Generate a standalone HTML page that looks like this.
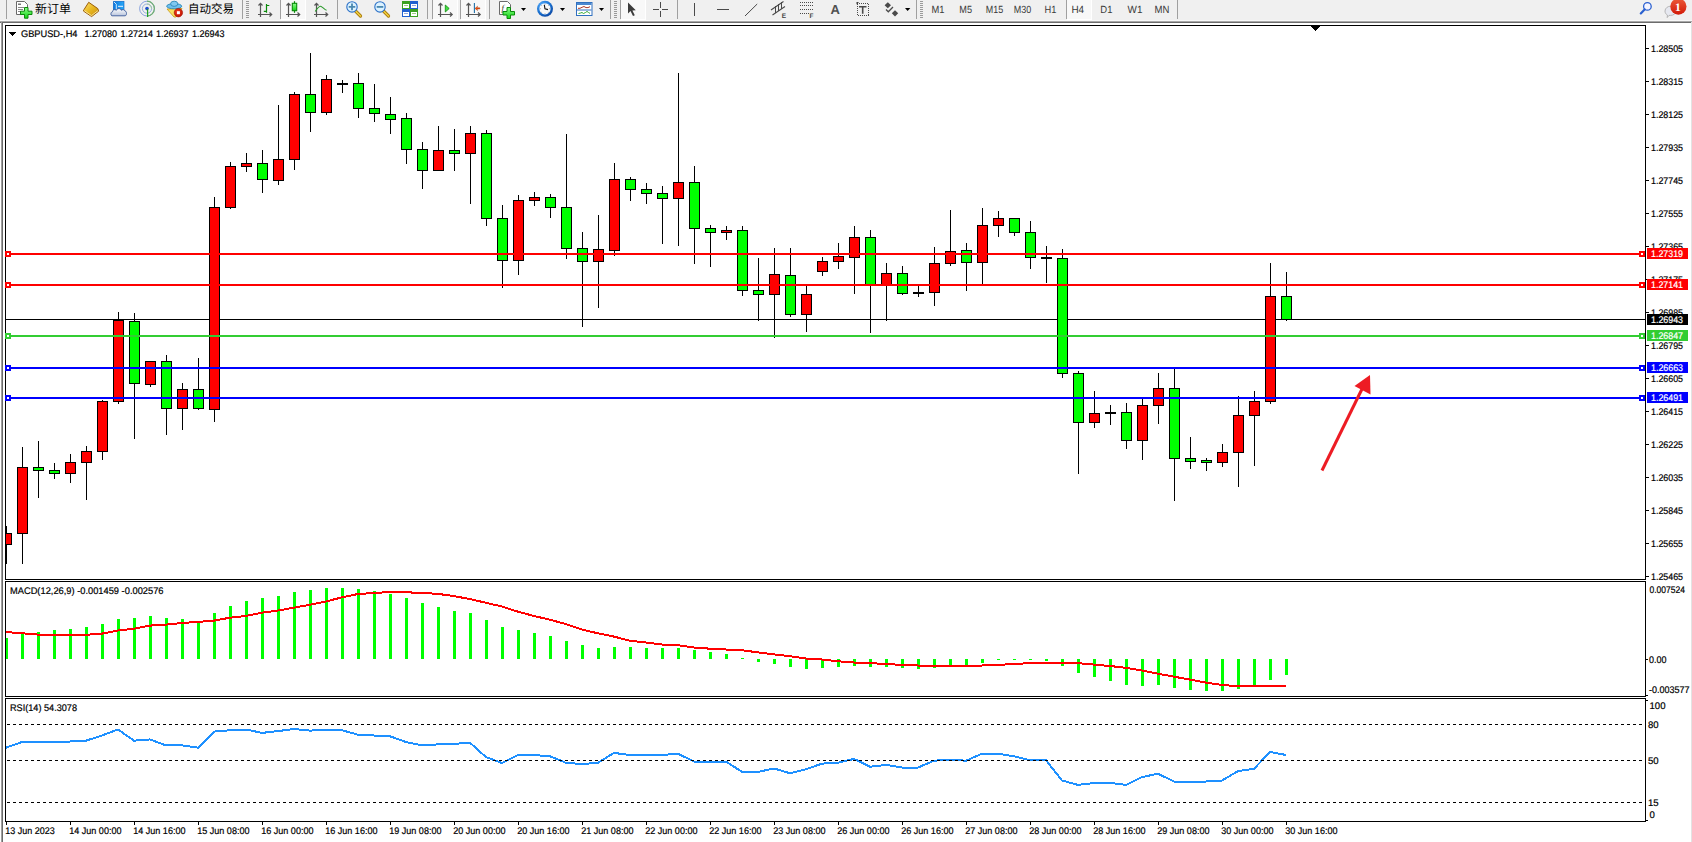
<!DOCTYPE html>
<html><head><meta charset="utf-8"><title>GBPUSD H4</title>
<style>html,body{margin:0;padding:0;background:#fff;}body{width:1692px;height:842px;overflow:hidden;position:relative}
svg{position:absolute;left:0;top:0;display:block} text{text-rendering:geometricPrecision}
</style></head><body>
<svg width="1692" height="842" viewBox="0 0 1692 842" shape-rendering="crispEdges">
<rect x="0" y="0" width="1692" height="842" fill="#ffffff"/>
<rect x="0" y="0" width="1692" height="20" fill="#f0f0f0"/>
<rect x="0" y="20" width="1692" height="1" fill="#f8f8f8"/>
<rect x="0" y="21" width="1692" height="1" fill="#a8a8a8"/>
<rect x="0" y="22" width="1692" height="1" fill="#6c6c6c"/>
<rect x="1" y="22" width="1" height="820" fill="#a0a0a0"/>
<rect x="2" y="22" width="1" height="820" fill="#6c6c6c"/>
<rect x="1691" y="22" width="1" height="820" fill="#e3e3e3"/>
<rect x="5" y="25" width="1641" height="1" fill="#000"/>
<rect x="5" y="579" width="1641" height="1" fill="#000"/>
<rect x="5" y="25" width="1" height="555" fill="#000"/>
<rect x="1645" y="25" width="1" height="555" fill="#000"/>
<rect x="5" y="581" width="1641" height="1" fill="#000"/>
<rect x="5" y="696" width="1641" height="1" fill="#000"/>
<rect x="5" y="581" width="1" height="116" fill="#000"/>
<rect x="1645" y="581" width="1" height="116" fill="#000"/>
<rect x="5" y="698" width="1641" height="1" fill="#000"/>
<rect x="5" y="821" width="1641" height="1" fill="#000"/>
<rect x="5" y="698" width="1" height="124" fill="#000"/>
<rect x="1645" y="698" width="1" height="124" fill="#000"/>
<rect x="1311" y="26" width="9" height="1" fill="#000"/>
<rect x="1312" y="27" width="7" height="1" fill="#000"/>
<rect x="1313" y="28" width="5" height="1" fill="#000"/>
<rect x="1314" y="29" width="3" height="1" fill="#000"/>
<rect x="1315" y="30" width="1" height="1" fill="#000"/>
<rect x="9" y="32" width="7" height="1" fill="#000"/>
<rect x="10" y="33" width="5" height="1" fill="#000"/>
<rect x="11" y="34" width="3" height="1" fill="#000"/>
<rect x="12" y="35" width="1" height="1" fill="#000"/>
<g clip-path="url(#cpa)">
<rect x="1646" y="48" width="3" height="1" fill="#000"/>
<text x="1651" y="51.5" font-size="9.6" fill="#000" stroke="#000" stroke-width="0.2" font-family='"Liberation Sans", Arial, sans-serif' textLength="32" lengthAdjust="spacingAndGlyphs">1.28505</text>
<rect x="1646" y="81" width="3" height="1" fill="#000"/>
<text x="1651" y="84.5" font-size="9.6" fill="#000" stroke="#000" stroke-width="0.2" font-family='"Liberation Sans", Arial, sans-serif' textLength="32" lengthAdjust="spacingAndGlyphs">1.28315</text>
<rect x="1646" y="114" width="3" height="1" fill="#000"/>
<text x="1651" y="117.5" font-size="9.6" fill="#000" stroke="#000" stroke-width="0.2" font-family='"Liberation Sans", Arial, sans-serif' textLength="32" lengthAdjust="spacingAndGlyphs">1.28125</text>
<rect x="1646" y="147" width="3" height="1" fill="#000"/>
<text x="1651" y="150.5" font-size="9.6" fill="#000" stroke="#000" stroke-width="0.2" font-family='"Liberation Sans", Arial, sans-serif' textLength="32" lengthAdjust="spacingAndGlyphs">1.27935</text>
<rect x="1646" y="180" width="3" height="1" fill="#000"/>
<text x="1651" y="183.5" font-size="9.6" fill="#000" stroke="#000" stroke-width="0.2" font-family='"Liberation Sans", Arial, sans-serif' textLength="32" lengthAdjust="spacingAndGlyphs">1.27745</text>
<rect x="1646" y="213" width="3" height="1" fill="#000"/>
<text x="1651" y="216.5" font-size="9.6" fill="#000" stroke="#000" stroke-width="0.2" font-family='"Liberation Sans", Arial, sans-serif' textLength="32" lengthAdjust="spacingAndGlyphs">1.27555</text>
<rect x="1646" y="246" width="3" height="1" fill="#000"/>
<text x="1651" y="249.5" font-size="9.6" fill="#000" stroke="#000" stroke-width="0.2" font-family='"Liberation Sans", Arial, sans-serif' textLength="32" lengthAdjust="spacingAndGlyphs">1.27365</text>
<rect x="1646" y="279" width="3" height="1" fill="#000"/>
<text x="1651" y="282.5" font-size="9.6" fill="#000" stroke="#000" stroke-width="0.2" font-family='"Liberation Sans", Arial, sans-serif' textLength="32" lengthAdjust="spacingAndGlyphs">1.27175</text>
<rect x="1646" y="312" width="3" height="1" fill="#000"/>
<text x="1651" y="315.5" font-size="9.6" fill="#000" stroke="#000" stroke-width="0.2" font-family='"Liberation Sans", Arial, sans-serif' textLength="32" lengthAdjust="spacingAndGlyphs">1.26985</text>
<rect x="1646" y="345" width="3" height="1" fill="#000"/>
<text x="1651" y="348.5" font-size="9.6" fill="#000" stroke="#000" stroke-width="0.2" font-family='"Liberation Sans", Arial, sans-serif' textLength="32" lengthAdjust="spacingAndGlyphs">1.26795</text>
<rect x="1646" y="378" width="3" height="1" fill="#000"/>
<text x="1651" y="381.5" font-size="9.6" fill="#000" stroke="#000" stroke-width="0.2" font-family='"Liberation Sans", Arial, sans-serif' textLength="32" lengthAdjust="spacingAndGlyphs">1.26605</text>
<rect x="1646" y="411" width="3" height="1" fill="#000"/>
<text x="1651" y="414.5" font-size="9.6" fill="#000" stroke="#000" stroke-width="0.2" font-family='"Liberation Sans", Arial, sans-serif' textLength="32" lengthAdjust="spacingAndGlyphs">1.26415</text>
<rect x="1646" y="444" width="3" height="1" fill="#000"/>
<text x="1651" y="447.5" font-size="9.6" fill="#000" stroke="#000" stroke-width="0.2" font-family='"Liberation Sans", Arial, sans-serif' textLength="32" lengthAdjust="spacingAndGlyphs">1.26225</text>
<rect x="1646" y="477" width="3" height="1" fill="#000"/>
<text x="1651" y="480.5" font-size="9.6" fill="#000" stroke="#000" stroke-width="0.2" font-family='"Liberation Sans", Arial, sans-serif' textLength="32" lengthAdjust="spacingAndGlyphs">1.26035</text>
<rect x="1646" y="510" width="3" height="1" fill="#000"/>
<text x="1651" y="513.5" font-size="9.6" fill="#000" stroke="#000" stroke-width="0.2" font-family='"Liberation Sans", Arial, sans-serif' textLength="32" lengthAdjust="spacingAndGlyphs">1.25845</text>
<rect x="1646" y="543" width="3" height="1" fill="#000"/>
<text x="1651" y="546.5" font-size="9.6" fill="#000" stroke="#000" stroke-width="0.2" font-family='"Liberation Sans", Arial, sans-serif' textLength="32" lengthAdjust="spacingAndGlyphs">1.25655</text>
<rect x="1646" y="576" width="3" height="1" fill="#000"/>
<text x="1651" y="579.5" font-size="9.6" fill="#000" stroke="#000" stroke-width="0.2" font-family='"Liberation Sans", Arial, sans-serif' textLength="32" lengthAdjust="spacingAndGlyphs">1.25465</text>
</g>
<defs><clipPath id="cm"><rect x="6" y="26" width="1639" height="553"/></clipPath><clipPath id="cmacd"><rect x="6" y="582" width="1639" height="114"/></clipPath><clipPath id="crsi"><rect x="6" y="699" width="1639" height="122"/></clipPath><clipPath id="cpa"><rect x="1646" y="26" width="46" height="556"/></clipPath></defs>
<g clip-path="url(#cm)">
<rect x="6" y="319" width="1639" height="1" fill="#000"/>
<rect x="6" y="526" width="1" height="38" fill="#000"/>
<rect x="1" y="533" width="11" height="12" fill="#000"/>
<rect x="2" y="534" width="9" height="10" fill="#ff0000"/>
<rect x="22" y="447" width="1" height="117" fill="#000"/>
<rect x="17" y="467" width="11" height="67" fill="#000"/>
<rect x="18" y="468" width="9" height="65" fill="#ff0000"/>
<rect x="38" y="441" width="1" height="57" fill="#000"/>
<rect x="33" y="467" width="11" height="4" fill="#000"/>
<rect x="34" y="468" width="9" height="2" fill="#00ff00"/>
<rect x="54" y="463" width="1" height="16" fill="#000"/>
<rect x="49" y="470" width="11" height="4" fill="#000"/>
<rect x="50" y="471" width="9" height="2" fill="#00ff00"/>
<rect x="70" y="454" width="1" height="29" fill="#000"/>
<rect x="65" y="462" width="11" height="12" fill="#000"/>
<rect x="66" y="463" width="9" height="10" fill="#ff0000"/>
<rect x="86" y="446" width="1" height="54" fill="#000"/>
<rect x="81" y="451" width="11" height="12" fill="#000"/>
<rect x="82" y="452" width="9" height="10" fill="#ff0000"/>
<rect x="102" y="400" width="1" height="60" fill="#000"/>
<rect x="97" y="401" width="11" height="51" fill="#000"/>
<rect x="98" y="402" width="9" height="49" fill="#ff0000"/>
<rect x="118" y="312" width="1" height="92" fill="#000"/>
<rect x="113" y="320" width="11" height="82" fill="#000"/>
<rect x="114" y="321" width="9" height="80" fill="#ff0000"/>
<rect x="134" y="313" width="1" height="126" fill="#000"/>
<rect x="129" y="321" width="11" height="63" fill="#000"/>
<rect x="130" y="322" width="9" height="61" fill="#00ff00"/>
<rect x="150" y="361" width="1" height="26" fill="#000"/>
<rect x="145" y="361" width="11" height="24" fill="#000"/>
<rect x="146" y="362" width="9" height="22" fill="#ff0000"/>
<rect x="166" y="355" width="1" height="80" fill="#000"/>
<rect x="161" y="361" width="11" height="48" fill="#000"/>
<rect x="162" y="362" width="9" height="46" fill="#00ff00"/>
<rect x="182" y="383" width="1" height="47" fill="#000"/>
<rect x="177" y="389" width="11" height="20" fill="#000"/>
<rect x="178" y="390" width="9" height="18" fill="#ff0000"/>
<rect x="198" y="358" width="1" height="52" fill="#000"/>
<rect x="193" y="389" width="11" height="20" fill="#000"/>
<rect x="194" y="390" width="9" height="18" fill="#00ff00"/>
<rect x="214" y="197" width="1" height="225" fill="#000"/>
<rect x="209" y="207" width="11" height="203" fill="#000"/>
<rect x="210" y="208" width="9" height="201" fill="#ff0000"/>
<rect x="230" y="162" width="1" height="47" fill="#000"/>
<rect x="225" y="166" width="11" height="42" fill="#000"/>
<rect x="226" y="167" width="9" height="40" fill="#ff0000"/>
<rect x="246" y="153" width="1" height="19" fill="#000"/>
<rect x="241" y="163" width="11" height="4" fill="#000"/>
<rect x="242" y="164" width="9" height="2" fill="#ff0000"/>
<rect x="262" y="150" width="1" height="43" fill="#000"/>
<rect x="257" y="163" width="11" height="17" fill="#000"/>
<rect x="258" y="164" width="9" height="15" fill="#00ff00"/>
<rect x="278" y="105" width="1" height="80" fill="#000"/>
<rect x="273" y="159" width="11" height="22" fill="#000"/>
<rect x="274" y="160" width="9" height="20" fill="#ff0000"/>
<rect x="294" y="92" width="1" height="78" fill="#000"/>
<rect x="289" y="94" width="11" height="66" fill="#000"/>
<rect x="290" y="95" width="9" height="64" fill="#ff0000"/>
<rect x="310" y="53" width="1" height="79" fill="#000"/>
<rect x="305" y="94" width="11" height="19" fill="#000"/>
<rect x="306" y="95" width="9" height="17" fill="#00ff00"/>
<rect x="326" y="75" width="1" height="40" fill="#000"/>
<rect x="321" y="79" width="11" height="34" fill="#000"/>
<rect x="322" y="80" width="9" height="32" fill="#ff0000"/>
<rect x="342" y="80" width="1" height="13" fill="#000"/>
<rect x="337" y="83" width="11" height="2" fill="#000"/>
<rect x="358" y="73" width="1" height="45" fill="#000"/>
<rect x="353" y="83" width="11" height="26" fill="#000"/>
<rect x="354" y="84" width="9" height="24" fill="#00ff00"/>
<rect x="374" y="84" width="1" height="38" fill="#000"/>
<rect x="369" y="108" width="11" height="6" fill="#000"/>
<rect x="370" y="109" width="9" height="4" fill="#00ff00"/>
<rect x="390" y="97" width="1" height="37" fill="#000"/>
<rect x="385" y="114" width="11" height="6" fill="#000"/>
<rect x="386" y="115" width="9" height="4" fill="#00ff00"/>
<rect x="406" y="113" width="1" height="51" fill="#000"/>
<rect x="401" y="118" width="11" height="32" fill="#000"/>
<rect x="402" y="119" width="9" height="30" fill="#00ff00"/>
<rect x="422" y="142" width="1" height="47" fill="#000"/>
<rect x="417" y="149" width="11" height="22" fill="#000"/>
<rect x="418" y="150" width="9" height="20" fill="#00ff00"/>
<rect x="438" y="126" width="1" height="45" fill="#000"/>
<rect x="433" y="150" width="11" height="21" fill="#000"/>
<rect x="434" y="151" width="9" height="19" fill="#ff0000"/>
<rect x="454" y="129" width="1" height="42" fill="#000"/>
<rect x="449" y="150" width="11" height="4" fill="#000"/>
<rect x="450" y="151" width="9" height="2" fill="#00ff00"/>
<rect x="470" y="126" width="1" height="78" fill="#000"/>
<rect x="465" y="133" width="11" height="21" fill="#000"/>
<rect x="466" y="134" width="9" height="19" fill="#ff0000"/>
<rect x="486" y="130" width="1" height="96" fill="#000"/>
<rect x="481" y="133" width="11" height="86" fill="#000"/>
<rect x="482" y="134" width="9" height="84" fill="#00ff00"/>
<rect x="502" y="205" width="1" height="83" fill="#000"/>
<rect x="497" y="218" width="11" height="43" fill="#000"/>
<rect x="498" y="219" width="9" height="41" fill="#00ff00"/>
<rect x="518" y="195" width="1" height="80" fill="#000"/>
<rect x="513" y="200" width="11" height="61" fill="#000"/>
<rect x="514" y="201" width="9" height="59" fill="#ff0000"/>
<rect x="534" y="192" width="1" height="14" fill="#000"/>
<rect x="529" y="197" width="11" height="4" fill="#000"/>
<rect x="530" y="198" width="9" height="2" fill="#ff0000"/>
<rect x="550" y="194" width="1" height="24" fill="#000"/>
<rect x="545" y="197" width="11" height="11" fill="#000"/>
<rect x="546" y="198" width="9" height="9" fill="#00ff00"/>
<rect x="566" y="134" width="1" height="125" fill="#000"/>
<rect x="561" y="207" width="11" height="42" fill="#000"/>
<rect x="562" y="208" width="9" height="40" fill="#00ff00"/>
<rect x="582" y="232" width="1" height="95" fill="#000"/>
<rect x="577" y="248" width="11" height="14" fill="#000"/>
<rect x="578" y="249" width="9" height="12" fill="#00ff00"/>
<rect x="598" y="215" width="1" height="93" fill="#000"/>
<rect x="593" y="249" width="11" height="13" fill="#000"/>
<rect x="594" y="250" width="9" height="11" fill="#ff0000"/>
<rect x="614" y="163" width="1" height="93" fill="#000"/>
<rect x="609" y="179" width="11" height="72" fill="#000"/>
<rect x="610" y="180" width="9" height="70" fill="#ff0000"/>
<rect x="630" y="177" width="1" height="24" fill="#000"/>
<rect x="625" y="179" width="11" height="11" fill="#000"/>
<rect x="626" y="180" width="9" height="9" fill="#00ff00"/>
<rect x="646" y="183" width="1" height="21" fill="#000"/>
<rect x="641" y="189" width="11" height="5" fill="#000"/>
<rect x="642" y="190" width="9" height="3" fill="#00ff00"/>
<rect x="662" y="186" width="1" height="58" fill="#000"/>
<rect x="657" y="193" width="11" height="6" fill="#000"/>
<rect x="658" y="194" width="9" height="4" fill="#00ff00"/>
<rect x="678" y="73" width="1" height="173" fill="#000"/>
<rect x="673" y="182" width="11" height="17" fill="#000"/>
<rect x="674" y="183" width="9" height="15" fill="#ff0000"/>
<rect x="694" y="166" width="1" height="98" fill="#000"/>
<rect x="689" y="182" width="11" height="47" fill="#000"/>
<rect x="690" y="183" width="9" height="45" fill="#00ff00"/>
<rect x="710" y="225" width="1" height="42" fill="#000"/>
<rect x="705" y="228" width="11" height="5" fill="#000"/>
<rect x="706" y="229" width="9" height="3" fill="#00ff00"/>
<rect x="726" y="226" width="1" height="14" fill="#000"/>
<rect x="721" y="230" width="11" height="3" fill="#000"/>
<rect x="722" y="231" width="9" height="1" fill="#ff0000"/>
<rect x="742" y="226" width="1" height="70" fill="#000"/>
<rect x="737" y="230" width="11" height="61" fill="#000"/>
<rect x="738" y="231" width="9" height="59" fill="#00ff00"/>
<rect x="758" y="258" width="1" height="63" fill="#000"/>
<rect x="753" y="290" width="11" height="5" fill="#000"/>
<rect x="754" y="291" width="9" height="3" fill="#00ff00"/>
<rect x="774" y="248" width="1" height="90" fill="#000"/>
<rect x="769" y="274" width="11" height="21" fill="#000"/>
<rect x="770" y="275" width="9" height="19" fill="#ff0000"/>
<rect x="790" y="248" width="1" height="69" fill="#000"/>
<rect x="785" y="275" width="11" height="40" fill="#000"/>
<rect x="786" y="276" width="9" height="38" fill="#00ff00"/>
<rect x="806" y="286" width="1" height="46" fill="#000"/>
<rect x="801" y="294" width="11" height="21" fill="#000"/>
<rect x="802" y="295" width="9" height="19" fill="#ff0000"/>
<rect x="822" y="257" width="1" height="19" fill="#000"/>
<rect x="817" y="261" width="11" height="11" fill="#000"/>
<rect x="818" y="262" width="9" height="9" fill="#ff0000"/>
<rect x="838" y="243" width="1" height="26" fill="#000"/>
<rect x="833" y="256" width="11" height="6" fill="#000"/>
<rect x="834" y="257" width="9" height="4" fill="#ff0000"/>
<rect x="854" y="226" width="1" height="68" fill="#000"/>
<rect x="849" y="237" width="11" height="21" fill="#000"/>
<rect x="850" y="238" width="9" height="19" fill="#ff0000"/>
<rect x="870" y="230" width="1" height="103" fill="#000"/>
<rect x="865" y="237" width="11" height="48" fill="#000"/>
<rect x="866" y="238" width="9" height="46" fill="#00ff00"/>
<rect x="886" y="263" width="1" height="58" fill="#000"/>
<rect x="881" y="273" width="11" height="12" fill="#000"/>
<rect x="882" y="274" width="9" height="10" fill="#ff0000"/>
<rect x="902" y="266" width="1" height="29" fill="#000"/>
<rect x="897" y="273" width="11" height="21" fill="#000"/>
<rect x="898" y="274" width="9" height="19" fill="#00ff00"/>
<rect x="918" y="286" width="1" height="11" fill="#000"/>
<rect x="913" y="292" width="11" height="2" fill="#000"/>
<rect x="934" y="247" width="1" height="59" fill="#000"/>
<rect x="929" y="263" width="11" height="30" fill="#000"/>
<rect x="930" y="264" width="9" height="28" fill="#ff0000"/>
<rect x="950" y="210" width="1" height="56" fill="#000"/>
<rect x="945" y="251" width="11" height="13" fill="#000"/>
<rect x="946" y="252" width="9" height="11" fill="#ff0000"/>
<rect x="966" y="243" width="1" height="48" fill="#000"/>
<rect x="961" y="250" width="11" height="13" fill="#000"/>
<rect x="962" y="251" width="9" height="11" fill="#00ff00"/>
<rect x="982" y="208" width="1" height="76" fill="#000"/>
<rect x="977" y="225" width="11" height="38" fill="#000"/>
<rect x="978" y="226" width="9" height="36" fill="#ff0000"/>
<rect x="998" y="211" width="1" height="26" fill="#000"/>
<rect x="993" y="218" width="11" height="8" fill="#000"/>
<rect x="994" y="219" width="9" height="6" fill="#ff0000"/>
<rect x="1014" y="218" width="1" height="18" fill="#000"/>
<rect x="1009" y="218" width="11" height="15" fill="#000"/>
<rect x="1010" y="219" width="9" height="13" fill="#00ff00"/>
<rect x="1030" y="221" width="1" height="48" fill="#000"/>
<rect x="1025" y="232" width="11" height="26" fill="#000"/>
<rect x="1026" y="233" width="9" height="24" fill="#00ff00"/>
<rect x="1046" y="246" width="1" height="37" fill="#000"/>
<rect x="1041" y="257" width="11" height="2" fill="#000"/>
<rect x="1062" y="249" width="1" height="129" fill="#000"/>
<rect x="1057" y="258" width="11" height="116" fill="#000"/>
<rect x="1058" y="259" width="9" height="114" fill="#00ff00"/>
<rect x="1078" y="371" width="1" height="103" fill="#000"/>
<rect x="1073" y="373" width="11" height="50" fill="#000"/>
<rect x="1074" y="374" width="9" height="48" fill="#00ff00"/>
<rect x="1094" y="391" width="1" height="37" fill="#000"/>
<rect x="1089" y="413" width="11" height="10" fill="#000"/>
<rect x="1090" y="414" width="9" height="8" fill="#ff0000"/>
<rect x="1110" y="405" width="1" height="20" fill="#000"/>
<rect x="1105" y="412" width="11" height="2" fill="#000"/>
<rect x="1126" y="403" width="1" height="46" fill="#000"/>
<rect x="1121" y="412" width="11" height="29" fill="#000"/>
<rect x="1122" y="413" width="9" height="27" fill="#00ff00"/>
<rect x="1142" y="399" width="1" height="61" fill="#000"/>
<rect x="1137" y="405" width="11" height="36" fill="#000"/>
<rect x="1138" y="406" width="9" height="34" fill="#ff0000"/>
<rect x="1158" y="373" width="1" height="51" fill="#000"/>
<rect x="1153" y="388" width="11" height="18" fill="#000"/>
<rect x="1154" y="389" width="9" height="16" fill="#ff0000"/>
<rect x="1174" y="368" width="1" height="133" fill="#000"/>
<rect x="1169" y="388" width="11" height="71" fill="#000"/>
<rect x="1170" y="389" width="9" height="69" fill="#00ff00"/>
<rect x="1190" y="437" width="1" height="32" fill="#000"/>
<rect x="1185" y="458" width="11" height="4" fill="#000"/>
<rect x="1186" y="459" width="9" height="2" fill="#00ff00"/>
<rect x="1206" y="458" width="1" height="13" fill="#000"/>
<rect x="1201" y="460" width="11" height="3" fill="#000"/>
<rect x="1202" y="461" width="9" height="1" fill="#00ff00"/>
<rect x="1222" y="444" width="1" height="23" fill="#000"/>
<rect x="1217" y="452" width="11" height="11" fill="#000"/>
<rect x="1218" y="453" width="9" height="9" fill="#ff0000"/>
<rect x="1238" y="396" width="1" height="91" fill="#000"/>
<rect x="1233" y="415" width="11" height="38" fill="#000"/>
<rect x="1234" y="416" width="9" height="36" fill="#ff0000"/>
<rect x="1254" y="391" width="1" height="75" fill="#000"/>
<rect x="1249" y="401" width="11" height="15" fill="#000"/>
<rect x="1250" y="402" width="9" height="13" fill="#ff0000"/>
<rect x="1270" y="263" width="1" height="141" fill="#000"/>
<rect x="1265" y="296" width="11" height="106" fill="#000"/>
<rect x="1266" y="297" width="9" height="104" fill="#ff0000"/>
<rect x="1286" y="272" width="1" height="49" fill="#000"/>
<rect x="1281" y="296" width="11" height="24" fill="#000"/>
<rect x="1282" y="297" width="9" height="22" fill="#00ff00"/>
<rect x="6" y="253" width="1639" height="2" fill="#ff0000"/>
<rect x="6" y="284" width="1639" height="2" fill="#ff0000"/>
<rect x="6" y="335" width="1639" height="2" fill="#32cd32"/>
<rect x="6" y="367" width="1639" height="2" fill="#0000ff"/>
<rect x="6" y="397" width="1639" height="2" fill="#0000ff"/>
<rect x="5" y="251" width="6" height="6" fill="#ff0000"/>
<rect x="7" y="253" width="2" height="2" fill="#fff"/>
<rect x="1639" y="251" width="6" height="6" fill="#ff0000"/>
<rect x="1641" y="253" width="2" height="2" fill="#fff"/>
<rect x="5" y="282" width="6" height="6" fill="#ff0000"/>
<rect x="7" y="284" width="2" height="2" fill="#fff"/>
<rect x="1639" y="282" width="6" height="6" fill="#ff0000"/>
<rect x="1641" y="284" width="2" height="2" fill="#fff"/>
<rect x="5" y="333" width="6" height="6" fill="#32cd32"/>
<rect x="7" y="335" width="2" height="2" fill="#fff"/>
<rect x="1639" y="333" width="6" height="6" fill="#32cd32"/>
<rect x="1641" y="335" width="2" height="2" fill="#fff"/>
<rect x="5" y="365" width="6" height="6" fill="#0000ff"/>
<rect x="7" y="367" width="2" height="2" fill="#fff"/>
<rect x="1639" y="365" width="6" height="6" fill="#0000ff"/>
<rect x="1641" y="367" width="2" height="2" fill="#fff"/>
<rect x="5" y="395" width="6" height="6" fill="#0000ff"/>
<rect x="7" y="397" width="2" height="2" fill="#fff"/>
<rect x="1639" y="395" width="6" height="6" fill="#0000ff"/>
<rect x="1641" y="397" width="2" height="2" fill="#fff"/>
</g>
<rect x="5" y="251" width="6" height="6" fill="#ff0000"/>
<rect x="7" y="253" width="2" height="2" fill="#fff"/>
<rect x="1639" y="251" width="6" height="6" fill="#ff0000"/>
<rect x="1641" y="253" width="2" height="2" fill="#fff"/>
<rect x="5" y="282" width="6" height="6" fill="#ff0000"/>
<rect x="7" y="284" width="2" height="2" fill="#fff"/>
<rect x="1639" y="282" width="6" height="6" fill="#ff0000"/>
<rect x="1641" y="284" width="2" height="2" fill="#fff"/>
<rect x="5" y="333" width="6" height="6" fill="#32cd32"/>
<rect x="7" y="335" width="2" height="2" fill="#fff"/>
<rect x="1639" y="333" width="6" height="6" fill="#32cd32"/>
<rect x="1641" y="335" width="2" height="2" fill="#fff"/>
<rect x="5" y="365" width="6" height="6" fill="#0000ff"/>
<rect x="7" y="367" width="2" height="2" fill="#fff"/>
<rect x="1639" y="365" width="6" height="6" fill="#0000ff"/>
<rect x="1641" y="367" width="2" height="2" fill="#fff"/>
<rect x="5" y="395" width="6" height="6" fill="#0000ff"/>
<rect x="7" y="397" width="2" height="2" fill="#fff"/>
<rect x="1639" y="395" width="6" height="6" fill="#0000ff"/>
<rect x="1641" y="397" width="2" height="2" fill="#fff"/>
<g shape-rendering="geometricPrecision"><line x1="1322" y1="470.5" x2="1362" y2="389" stroke="#ed1c24" stroke-width="3"/>
<polygon points="1370,375 1354.5,386 1370.5,394.5" fill="#ed1c24"/></g>
<rect x="1647" y="248" width="41" height="11" fill="#ff0000"/>
<text x="1651" y="257" font-size="9.6" fill="#fff" stroke="#fff" stroke-width="0.2" font-family='"Liberation Sans", Arial, sans-serif' textLength="32" lengthAdjust="spacingAndGlyphs">1.27319</text>
<rect x="1647" y="279" width="41" height="11" fill="#ff0000"/>
<text x="1651" y="288" font-size="9.6" fill="#fff" stroke="#fff" stroke-width="0.2" font-family='"Liberation Sans", Arial, sans-serif' textLength="32" lengthAdjust="spacingAndGlyphs">1.27141</text>
<rect x="1647" y="330" width="41" height="11" fill="#32cd32"/>
<text x="1651" y="339" font-size="9.6" fill="#fff" stroke="#fff" stroke-width="0.2" font-family='"Liberation Sans", Arial, sans-serif' textLength="32" lengthAdjust="spacingAndGlyphs">1.26847</text>
<rect x="1647" y="362" width="41" height="11" fill="#0000ff"/>
<text x="1651" y="371" font-size="9.6" fill="#fff" stroke="#fff" stroke-width="0.2" font-family='"Liberation Sans", Arial, sans-serif' textLength="32" lengthAdjust="spacingAndGlyphs">1.26663</text>
<rect x="1647" y="392" width="41" height="11" fill="#0000ff"/>
<text x="1651" y="401" font-size="9.6" fill="#fff" stroke="#fff" stroke-width="0.2" font-family='"Liberation Sans", Arial, sans-serif' textLength="32" lengthAdjust="spacingAndGlyphs">1.26491</text>
<rect x="1647" y="314" width="41" height="11" fill="#000"/>
<text x="1651" y="323" font-size="9.6" fill="#fff" stroke="#fff" stroke-width="0.2" font-family='"Liberation Sans", Arial, sans-serif' textLength="32" lengthAdjust="spacingAndGlyphs">1.26943</text>
<text x="21" y="37" font-size="9.6" fill="#000" stroke="#000" stroke-width="0.2" font-family='"Liberation Sans", Arial, sans-serif' textLength="56.5" lengthAdjust="spacingAndGlyphs">GBPUSD-,H4</text>
<text x="84.5" y="37" font-size="9.6" fill="#000" stroke="#000" stroke-width="0.2" font-family='"Liberation Sans", Arial, sans-serif' textLength="32.5" lengthAdjust="spacingAndGlyphs">1.27080</text>
<text x="120.4" y="37" font-size="9.6" fill="#000" stroke="#000" stroke-width="0.2" font-family='"Liberation Sans", Arial, sans-serif' textLength="32.5" lengthAdjust="spacingAndGlyphs">1.27214</text>
<text x="155.9" y="37" font-size="9.6" fill="#000" stroke="#000" stroke-width="0.2" font-family='"Liberation Sans", Arial, sans-serif' textLength="32.5" lengthAdjust="spacingAndGlyphs">1.26937</text>
<text x="192" y="37" font-size="9.6" fill="#000" stroke="#000" stroke-width="0.2" font-family='"Liberation Sans", Arial, sans-serif' textLength="32.5" lengthAdjust="spacingAndGlyphs">1.26943</text>
<g clip-path="url(#cmacd)">
<rect x="5" y="638" width="3" height="21" fill="#00ff00"/>
<rect x="21" y="634" width="3" height="25" fill="#00ff00"/>
<rect x="37" y="632" width="3" height="27" fill="#00ff00"/>
<rect x="53" y="630" width="3" height="29" fill="#00ff00"/>
<rect x="69" y="629" width="3" height="30" fill="#00ff00"/>
<rect x="85" y="627" width="3" height="32" fill="#00ff00"/>
<rect x="101" y="624" width="3" height="35" fill="#00ff00"/>
<rect x="117" y="619" width="3" height="40" fill="#00ff00"/>
<rect x="133" y="618" width="3" height="41" fill="#00ff00"/>
<rect x="149" y="616" width="3" height="43" fill="#00ff00"/>
<rect x="165" y="618" width="3" height="41" fill="#00ff00"/>
<rect x="181" y="619" width="3" height="40" fill="#00ff00"/>
<rect x="197" y="622" width="3" height="37" fill="#00ff00"/>
<rect x="213" y="613" width="3" height="46" fill="#00ff00"/>
<rect x="229" y="606" width="3" height="53" fill="#00ff00"/>
<rect x="245" y="601" width="3" height="58" fill="#00ff00"/>
<rect x="261" y="598" width="3" height="61" fill="#00ff00"/>
<rect x="277" y="596" width="3" height="63" fill="#00ff00"/>
<rect x="293" y="592" width="3" height="67" fill="#00ff00"/>
<rect x="309" y="590" width="3" height="69" fill="#00ff00"/>
<rect x="325" y="588" width="3" height="71" fill="#00ff00"/>
<rect x="341" y="588" width="3" height="71" fill="#00ff00"/>
<rect x="357" y="589" width="3" height="70" fill="#00ff00"/>
<rect x="373" y="591" width="3" height="68" fill="#00ff00"/>
<rect x="389" y="594" width="3" height="65" fill="#00ff00"/>
<rect x="405" y="598" width="3" height="61" fill="#00ff00"/>
<rect x="421" y="603" width="3" height="56" fill="#00ff00"/>
<rect x="437" y="607" width="3" height="52" fill="#00ff00"/>
<rect x="453" y="611" width="3" height="48" fill="#00ff00"/>
<rect x="469" y="613" width="3" height="46" fill="#00ff00"/>
<rect x="485" y="620" width="3" height="39" fill="#00ff00"/>
<rect x="501" y="627" width="3" height="32" fill="#00ff00"/>
<rect x="517" y="630" width="3" height="29" fill="#00ff00"/>
<rect x="533" y="633" width="3" height="26" fill="#00ff00"/>
<rect x="549" y="636" width="3" height="23" fill="#00ff00"/>
<rect x="565" y="641" width="3" height="18" fill="#00ff00"/>
<rect x="581" y="645" width="3" height="14" fill="#00ff00"/>
<rect x="597" y="648" width="3" height="11" fill="#00ff00"/>
<rect x="613" y="647" width="3" height="12" fill="#00ff00"/>
<rect x="629" y="647" width="3" height="12" fill="#00ff00"/>
<rect x="645" y="648" width="3" height="11" fill="#00ff00"/>
<rect x="661" y="648" width="3" height="11" fill="#00ff00"/>
<rect x="677" y="648" width="3" height="11" fill="#00ff00"/>
<rect x="693" y="650" width="3" height="9" fill="#00ff00"/>
<rect x="709" y="652" width="3" height="7" fill="#00ff00"/>
<rect x="725" y="654" width="3" height="5" fill="#00ff00"/>
<rect x="741" y="658" width="3" height="1" fill="#00ff00"/>
<rect x="757" y="659" width="3" height="3" fill="#00ff00"/>
<rect x="773" y="659" width="3" height="5" fill="#00ff00"/>
<rect x="789" y="659" width="3" height="8" fill="#00ff00"/>
<rect x="805" y="659" width="3" height="10" fill="#00ff00"/>
<rect x="821" y="659" width="3" height="9" fill="#00ff00"/>
<rect x="837" y="659" width="3" height="8" fill="#00ff00"/>
<rect x="853" y="659" width="3" height="7" fill="#00ff00"/>
<rect x="869" y="659" width="3" height="8" fill="#00ff00"/>
<rect x="885" y="659" width="3" height="8" fill="#00ff00"/>
<rect x="901" y="659" width="3" height="9" fill="#00ff00"/>
<rect x="917" y="659" width="3" height="10" fill="#00ff00"/>
<rect x="933" y="659" width="3" height="9" fill="#00ff00"/>
<rect x="949" y="659" width="3" height="6" fill="#00ff00"/>
<rect x="965" y="659" width="3" height="6" fill="#00ff00"/>
<rect x="981" y="659" width="3" height="4" fill="#00ff00"/>
<rect x="997" y="659" width="3" height="1" fill="#00ff00"/>
<rect x="1013" y="659" width="3" height="1" fill="#00ff00"/>
<rect x="1029" y="659" width="3" height="1" fill="#00ff00"/>
<rect x="1045" y="659" width="3" height="2" fill="#00ff00"/>
<rect x="1061" y="659" width="3" height="7" fill="#00ff00"/>
<rect x="1077" y="659" width="3" height="14" fill="#00ff00"/>
<rect x="1093" y="659" width="3" height="18" fill="#00ff00"/>
<rect x="1109" y="659" width="3" height="22" fill="#00ff00"/>
<rect x="1125" y="659" width="3" height="26" fill="#00ff00"/>
<rect x="1141" y="659" width="3" height="27" fill="#00ff00"/>
<rect x="1157" y="659" width="3" height="26" fill="#00ff00"/>
<rect x="1173" y="659" width="3" height="29" fill="#00ff00"/>
<rect x="1189" y="659" width="3" height="31" fill="#00ff00"/>
<rect x="1205" y="659" width="3" height="32" fill="#00ff00"/>
<rect x="1221" y="659" width="3" height="32" fill="#00ff00"/>
<rect x="1237" y="659" width="3" height="30" fill="#00ff00"/>
<rect x="1253" y="659" width="3" height="27" fill="#00ff00"/>
<rect x="1269" y="659" width="3" height="21" fill="#00ff00"/>
<rect x="1285" y="659" width="3" height="16" fill="#00ff00"/>
<polyline points="5,632 6,632 22,633.3 38,634.6 54,635 70,635 86,634.8 102,633.6 118,630.5 134,628.7 150,625.6 166,624.6 182,623 198,621.9 214,620.6 230,617.7 246,616 262,612.7 278,610.5 294,607.7 310,604.7 326,601.5 342,597.3 358,594 374,593 390,592 406,592.3 422,592.9 438,593.9 454,596.1 470,599.1 486,602.8 502,606.5 518,611.7 534,616 550,619.7 566,624.1 582,629.6 598,633.3 614,636.6 630,640.8 646,642.5 662,644.5 678,645.2 694,647.5 710,648.7 726,649.5 742,650.2 758,652.4 774,654.4 790,656.2 806,658.5 822,659.5 838,661.3 854,662.5 870,663.1 886,664 902,664.9 918,665.5 934,665.5 950,665.5 966,665.5 982,665.5 998,664.9 1014,664 1030,663.1 1046,663.1 1062,663.1 1078,663.1 1094,664.6 1110,666 1126,667.8 1142,670.5 1158,673.7 1174,676.7 1190,679.6 1206,682.6 1222,685 1238,686.1 1254,686.1 1270,685.6 1286,685.6" fill="none" stroke="#ff0000" stroke-width="2"/>
</g>
<text x="10" y="594" font-size="9.6" fill="#000" stroke="#000" stroke-width="0.2" font-family='"Liberation Sans", Arial, sans-serif' textLength="153.5" lengthAdjust="spacingAndGlyphs">MACD(12,26,9) -0.001459 -0.002576</text>
<text x="1649.5" y="592.5" font-size="9.6" fill="#000" stroke="#000" stroke-width="0.2" font-family='"Liberation Sans", Arial, sans-serif' textLength="35.5" lengthAdjust="spacingAndGlyphs">0.007524</text>
<rect x="1646" y="659" width="2" height="1" fill="#000"/>
<rect x="1646" y="695" width="2" height="1" fill="#000"/>
<rect x="1646" y="700" width="2" height="1" fill="#000"/>
<rect x="1646" y="820" width="2" height="1" fill="#000"/>
<text x="1649" y="662.8" font-size="9.6" fill="#000" stroke="#000" stroke-width="0.2" font-family='"Liberation Sans", Arial, sans-serif' textLength="17.5" lengthAdjust="spacingAndGlyphs">0.00</text>
<text x="1649" y="692.8" font-size="9.6" fill="#000" stroke="#000" stroke-width="0.2" font-family='"Liberation Sans", Arial, sans-serif' textLength="40.5" lengthAdjust="spacingAndGlyphs">-0.003577</text>
<g clip-path="url(#crsi)">
<polyline points="5,747.7 6,747.7 22,742 38,742 54,742 70,741.5 86,740.7 102,735.5 118,729.5 134,740.7 150,739.4 166,745.4 182,745.4 198,747.7 214,731.6 230,730.3 246,729.5 262,732.9 278,731.1 294,729 310,730.6 326,729.8 342,730.3 358,734.7 374,735.5 390,736.3 406,742 422,745.4 438,744.4 454,743.8 470,742.8 486,757.1 502,763.1 518,755 534,755 550,756.3 566,762.8 582,764.1 598,762.8 614,752.9 630,755 646,755 662,755 678,753.7 694,761.5 710,761.5 726,761.5 742,771.9 758,771.9 774,768.5 790,773.2 806,769.3 822,763.6 838,762.8 854,758.9 870,766.7 886,764.9 902,767.5 918,767.5 934,760.7 950,759.7 966,760.7 982,753.7 998,753.7 1014,756.3 1030,760.2 1046,760.2 1062,780.5 1078,784.9 1094,783.1 1110,782.8 1126,784.9 1142,777.1 1158,773.7 1174,781.5 1190,781.5 1206,781.5 1222,780.5 1238,771.1 1254,768.8 1270,751.9 1286,755" fill="none" stroke="#1e90ff" stroke-width="2"/>
<line x1="7" y1="724.5" x2="1645" y2="724.5" stroke="#000" stroke-width="1" stroke-dasharray="3,3"/>
<line x1="7" y1="760.5" x2="1645" y2="760.5" stroke="#000" stroke-width="1" stroke-dasharray="3,3"/>
<line x1="7" y1="802.5" x2="1645" y2="802.5" stroke="#000" stroke-width="1" stroke-dasharray="3,3"/>
</g>
<text x="10" y="711" font-size="9.6" fill="#000" stroke="#000" stroke-width="0.2" font-family='"Liberation Sans", Arial, sans-serif' textLength="67" lengthAdjust="spacingAndGlyphs">RSI(14) 54.3078</text>
<text x="1649.5" y="708.7" font-size="9.6" fill="#000" stroke="#000" stroke-width="0.2" font-family='"Liberation Sans", Arial, sans-serif'>100</text>
<text x="1648" y="727.7" font-size="9.6" fill="#000" stroke="#000" stroke-width="0.2" font-family='"Liberation Sans", Arial, sans-serif'>80</text>
<text x="1648" y="764" font-size="9.6" fill="#000" stroke="#000" stroke-width="0.2" font-family='"Liberation Sans", Arial, sans-serif'>50</text>
<text x="1648" y="806" font-size="9.6" fill="#000" stroke="#000" stroke-width="0.2" font-family='"Liberation Sans", Arial, sans-serif'>15</text>
<text x="1649.4" y="817.6" font-size="9.6" fill="#000" stroke="#000" stroke-width="0.2" font-family='"Liberation Sans", Arial, sans-serif'>0</text>
<rect x="6" y="822" width="1" height="3" fill="#000"/>
<text x="5.2" y="834" font-size="9.6" fill="#000" stroke="#000" stroke-width="0.2" font-family='"Liberation Sans", Arial, sans-serif' textLength="49.5" lengthAdjust="spacingAndGlyphs">13 Jun 2023</text>
<rect x="70" y="822" width="1" height="3" fill="#000"/>
<text x="69.2" y="834" font-size="9.6" fill="#000" stroke="#000" stroke-width="0.2" font-family='"Liberation Sans", Arial, sans-serif' textLength="52.3" lengthAdjust="spacingAndGlyphs">14 Jun 00:00</text>
<rect x="134" y="822" width="1" height="3" fill="#000"/>
<text x="133.2" y="834" font-size="9.6" fill="#000" stroke="#000" stroke-width="0.2" font-family='"Liberation Sans", Arial, sans-serif' textLength="52.3" lengthAdjust="spacingAndGlyphs">14 Jun 16:00</text>
<rect x="198" y="822" width="1" height="3" fill="#000"/>
<text x="197.2" y="834" font-size="9.6" fill="#000" stroke="#000" stroke-width="0.2" font-family='"Liberation Sans", Arial, sans-serif' textLength="52.3" lengthAdjust="spacingAndGlyphs">15 Jun 08:00</text>
<rect x="262" y="822" width="1" height="3" fill="#000"/>
<text x="261.2" y="834" font-size="9.6" fill="#000" stroke="#000" stroke-width="0.2" font-family='"Liberation Sans", Arial, sans-serif' textLength="52.3" lengthAdjust="spacingAndGlyphs">16 Jun 00:00</text>
<rect x="326" y="822" width="1" height="3" fill="#000"/>
<text x="325.2" y="834" font-size="9.6" fill="#000" stroke="#000" stroke-width="0.2" font-family='"Liberation Sans", Arial, sans-serif' textLength="52.3" lengthAdjust="spacingAndGlyphs">16 Jun 16:00</text>
<rect x="390" y="822" width="1" height="3" fill="#000"/>
<text x="389.2" y="834" font-size="9.6" fill="#000" stroke="#000" stroke-width="0.2" font-family='"Liberation Sans", Arial, sans-serif' textLength="52.3" lengthAdjust="spacingAndGlyphs">19 Jun 08:00</text>
<rect x="454" y="822" width="1" height="3" fill="#000"/>
<text x="453.2" y="834" font-size="9.6" fill="#000" stroke="#000" stroke-width="0.2" font-family='"Liberation Sans", Arial, sans-serif' textLength="52.3" lengthAdjust="spacingAndGlyphs">20 Jun 00:00</text>
<rect x="518" y="822" width="1" height="3" fill="#000"/>
<text x="517.2" y="834" font-size="9.6" fill="#000" stroke="#000" stroke-width="0.2" font-family='"Liberation Sans", Arial, sans-serif' textLength="52.3" lengthAdjust="spacingAndGlyphs">20 Jun 16:00</text>
<rect x="582" y="822" width="1" height="3" fill="#000"/>
<text x="581.2" y="834" font-size="9.6" fill="#000" stroke="#000" stroke-width="0.2" font-family='"Liberation Sans", Arial, sans-serif' textLength="52.3" lengthAdjust="spacingAndGlyphs">21 Jun 08:00</text>
<rect x="646" y="822" width="1" height="3" fill="#000"/>
<text x="645.2" y="834" font-size="9.6" fill="#000" stroke="#000" stroke-width="0.2" font-family='"Liberation Sans", Arial, sans-serif' textLength="52.3" lengthAdjust="spacingAndGlyphs">22 Jun 00:00</text>
<rect x="710" y="822" width="1" height="3" fill="#000"/>
<text x="709.2" y="834" font-size="9.6" fill="#000" stroke="#000" stroke-width="0.2" font-family='"Liberation Sans", Arial, sans-serif' textLength="52.3" lengthAdjust="spacingAndGlyphs">22 Jun 16:00</text>
<rect x="774" y="822" width="1" height="3" fill="#000"/>
<text x="773.2" y="834" font-size="9.6" fill="#000" stroke="#000" stroke-width="0.2" font-family='"Liberation Sans", Arial, sans-serif' textLength="52.3" lengthAdjust="spacingAndGlyphs">23 Jun 08:00</text>
<rect x="838" y="822" width="1" height="3" fill="#000"/>
<text x="837.2" y="834" font-size="9.6" fill="#000" stroke="#000" stroke-width="0.2" font-family='"Liberation Sans", Arial, sans-serif' textLength="52.3" lengthAdjust="spacingAndGlyphs">26 Jun 00:00</text>
<rect x="902" y="822" width="1" height="3" fill="#000"/>
<text x="901.2" y="834" font-size="9.6" fill="#000" stroke="#000" stroke-width="0.2" font-family='"Liberation Sans", Arial, sans-serif' textLength="52.3" lengthAdjust="spacingAndGlyphs">26 Jun 16:00</text>
<rect x="966" y="822" width="1" height="3" fill="#000"/>
<text x="965.2" y="834" font-size="9.6" fill="#000" stroke="#000" stroke-width="0.2" font-family='"Liberation Sans", Arial, sans-serif' textLength="52.3" lengthAdjust="spacingAndGlyphs">27 Jun 08:00</text>
<rect x="1030" y="822" width="1" height="3" fill="#000"/>
<text x="1029.2" y="834" font-size="9.6" fill="#000" stroke="#000" stroke-width="0.2" font-family='"Liberation Sans", Arial, sans-serif' textLength="52.3" lengthAdjust="spacingAndGlyphs">28 Jun 00:00</text>
<rect x="1094" y="822" width="1" height="3" fill="#000"/>
<text x="1093.2" y="834" font-size="9.6" fill="#000" stroke="#000" stroke-width="0.2" font-family='"Liberation Sans", Arial, sans-serif' textLength="52.3" lengthAdjust="spacingAndGlyphs">28 Jun 16:00</text>
<rect x="1158" y="822" width="1" height="3" fill="#000"/>
<text x="1157.2" y="834" font-size="9.6" fill="#000" stroke="#000" stroke-width="0.2" font-family='"Liberation Sans", Arial, sans-serif' textLength="52.3" lengthAdjust="spacingAndGlyphs">29 Jun 08:00</text>
<rect x="1222" y="822" width="1" height="3" fill="#000"/>
<text x="1221.2" y="834" font-size="9.6" fill="#000" stroke="#000" stroke-width="0.2" font-family='"Liberation Sans", Arial, sans-serif' textLength="52.3" lengthAdjust="spacingAndGlyphs">30 Jun 00:00</text>
<rect x="1286" y="822" width="1" height="3" fill="#000"/>
<text x="1285.2" y="834" font-size="9.6" fill="#000" stroke="#000" stroke-width="0.2" font-family='"Liberation Sans", Arial, sans-serif' textLength="52.3" lengthAdjust="spacingAndGlyphs">30 Jun 16:00</text>
<g id="tb" shape-rendering="geometricPrecision">
<!-- separators -->
<g fill="#a0a0a0" shape-rendering="crispEdges">
<rect x="6" y="0" width="1" height="19"/>
<rect x="242" y="0" width="1" height="19"/>
<rect x="280" y="0" width="1" height="19"/>
<rect x="337" y="0" width="1" height="19"/>
<rect x="427" y="0" width="1" height="19"/>
<rect x="432" y="0" width="1" height="19"/>
<rect x="460" y="0" width="1" height="19"/>
<rect x="489" y="0" width="1" height="19"/>
<rect x="610" y="0" width="1" height="19"/>
<rect x="620" y="0" width="1" height="19"/>
<rect x="677" y="0" width="1" height="19"/>
<rect x="916" y="0" width="1" height="19"/>
<rect x="1066" y="0" width="1" height="19"/>
<rect x="1177" y="0" width="1" height="19"/>
</g>
<!-- pressed buttons -->
<g fill="#f8f8f8" shape-rendering="crispEdges">
<rect x="281" y="0" width="24" height="19"/>
<rect x="433" y="0" width="24" height="19"/>
<rect x="461" y="0" width="24" height="19"/>
<rect x="621" y="0" width="24" height="19"/>
<rect x="1067" y="0" width="24" height="19"/>
</g>
<g fill="#ffffff" shape-rendering="crispEdges">
<rect x="305" y="0" width="1" height="20"/><rect x="281" y="19" width="25" height="1"/>
<rect x="457" y="0" width="1" height="20"/><rect x="433" y="19" width="25" height="1"/>
<rect x="485" y="0" width="1" height="20"/><rect x="461" y="19" width="25" height="1"/>
<rect x="645" y="0" width="1" height="20"/><rect x="621" y="19" width="25" height="1"/>
<rect x="1091" y="0" width="1" height="20"/><rect x="1067" y="19" width="25" height="1"/>
</g>
<!-- grips -->
<g fill="#9a9a9a" shape-rendering="crispEdges">
<rect x="246" y="1" width="3" height="1"/><rect x="246" y="3" width="3" height="1"/><rect x="246" y="5" width="3" height="1"/><rect x="246" y="7" width="3" height="1"/><rect x="246" y="9" width="3" height="1"/><rect x="246" y="11" width="3" height="1"/><rect x="246" y="13" width="3" height="1"/><rect x="246" y="15" width="3" height="1"/><rect x="246" y="17" width="3" height="1"/>
<rect x="614" y="1" width="3" height="1"/><rect x="614" y="3" width="3" height="1"/><rect x="614" y="5" width="3" height="1"/><rect x="614" y="7" width="3" height="1"/><rect x="614" y="9" width="3" height="1"/><rect x="614" y="11" width="3" height="1"/><rect x="614" y="13" width="3" height="1"/><rect x="614" y="15" width="3" height="1"/><rect x="614" y="17" width="3" height="1"/>
<rect x="920" y="1" width="3" height="1"/><rect x="920" y="3" width="3" height="1"/><rect x="920" y="5" width="3" height="1"/><rect x="920" y="7" width="3" height="1"/><rect x="920" y="9" width="3" height="1"/><rect x="920" y="11" width="3" height="1"/><rect x="920" y="13" width="3" height="1"/><rect x="920" y="15" width="3" height="1"/><rect x="920" y="17" width="3" height="1"/>
</g>
<defs>
<linearGradient id="gg" x1="0" y1="0" x2="0" y2="1"><stop offset="0" stop-color="#8dfc8d"/><stop offset="1" stop-color="#11d611"/></linearGradient>
<linearGradient id="gold" x1="0" y1="0" x2="1" y2="1"><stop offset="0" stop-color="#ffe070"/><stop offset="0.5" stop-color="#e8b820"/><stop offset="1" stop-color="#c88a10"/></linearGradient>
<linearGradient id="bl" x1="0" y1="0" x2="1" y2="0"><stop offset="0" stop-color="#0a78e0"/><stop offset="1" stop-color="#28a8f8"/></linearGradient>
<linearGradient id="cl" x1="0" y1="0" x2="0" y2="1"><stop offset="0" stop-color="#ffffff"/><stop offset="1" stop-color="#b8c4dc"/></linearGradient>
<radialGradient id="rd" cx="0.4" cy="0.35" r="0.7"><stop offset="0" stop-color="#f04020"/><stop offset="1" stop-color="#c01000"/></radialGradient>
</defs>
<!-- new order icon -->
<path d="M16.5,1.5 h8 l3,3 v10 h-11 z" fill="#fff" stroke="#6a6a6a" stroke-width="1"/>
<rect x="18" y="3.5" width="3" height="1.5" fill="#777"/>
<rect x="18" y="7" width="6" height="1" fill="#888"/><rect x="18" y="9" width="5" height="1" fill="#888"/><rect x="18" y="11" width="3" height="1" fill="#888"/>
<path d="M24.5,7.5 h3.5 v3.7 h4 v3.3 h-4 v3.7 h-3.5 v-3.7 h-4 v-3.3 h4 z" fill="url(#gg)" stroke="#0a8a0a" stroke-width="1"/>
<text x="35" y="13" font-size="12" fill="#000" font-family='"Liberation Sans", "Noto Sans CJK SC", "WenQuanYi Zen Hei", sans-serif' textLength="36" lengthAdjust="spacingAndGlyphs">新订单</text>
<!-- gold icon -->
<path d="M88.7,2.3 L97.8,8.6 L98.6,11.2 L91.6,16.6 L83.4,11 L84,9.6 Z" fill="url(#gold)" stroke="#9a5e0a" stroke-width="1"/>
<path d="M84.3,10.6 L91.5,15.6 L98,10.6" fill="none" stroke="#fff2b0" stroke-width="0.8"/>
<!-- blue box + cloud -->
<rect x="113.3" y="1.3" width="10.7" height="8.5" fill="url(#bl)" stroke="#0a60c0" stroke-width="0.6"/>
<path d="M113.8,1.8 L116.3,4.3 V9.5" stroke="#fff" stroke-width="0.8" fill="none"/>
<rect x="118" y="5.8" width="5" height="1" fill="#e8f4ff"/>
<path d="M112,15.8 c-1.5,0 -1.5,-4 0.5,-4 c0,-2.5 3,-2.5 3.8,-1.5 c0.8,-2.2 4.4,-2.2 5,0 c1,-1 3.5,-0.8 3.7,0.8 c2,0 2,4.7 0,4.7 z" fill="url(#cl)" stroke="#3a5a9a" stroke-width="0.9"/>
<!-- signal icon -->
<circle cx="147" cy="8.6" r="7.4" fill="none" stroke="#7090d8" stroke-width="1" opacity="0.8"/>
<circle cx="147" cy="8.6" r="4.6" fill="none" stroke="#80a0d8" stroke-width="1" opacity="0.8"/>
<path d="M147,1.2 A7.4,7.4 0 0 1 147,16" fill="none" stroke="#70b070" stroke-width="1.2"/>
<path d="M147,4 A4.6,4.6 0 0 1 151.6,8.6" fill="none" stroke="#a0c8a0" stroke-width="1"/>
<circle cx="147" cy="8.6" r="1.8" fill="#2050c8"/>
<rect x="147" y="9" width="1.2" height="8" fill="#20a020"/>
<!-- auto trading icon -->
<path d="M167,9 L182,8.5 L176,17 L174,17 Z" fill="#f8e060" stroke="#c89818" stroke-width="0.8"/>
<ellipse cx="174.2" cy="6.2" rx="7.5" ry="2.6" fill="#70c0ee" stroke="#2a88b8" stroke-width="0.9"/>
<ellipse cx="174.2" cy="3.8" rx="3.6" ry="2.6" fill="#80c8f0" stroke="#2a88b8" stroke-width="0.9"/>
<circle cx="178.4" cy="12.7" r="4.2" fill="url(#rd)" stroke="#a01000" stroke-width="0.6"/>
<rect x="176.9" y="11.2" width="3" height="3" fill="#fff"/>
<text x="188" y="13" font-size="12" fill="#000" font-family='"Liberation Sans", "Noto Sans CJK SC", "WenQuanYi Zen Hei", sans-serif' textLength="46" lengthAdjust="spacingAndGlyphs">自动交易</text>
<!-- axes icons -->
<g stroke="#555" stroke-width="1.2" fill="none">
<path d="M260.5,3.5 V17 M258.5,5.5 L260.5,3.3 L262.5,5.5 M258,14.5 H271.5 M269.5,12.5 L271.7,14.5 L269.5,16.5"/>
<path d="M288.5,3.5 V17 M286.5,5.5 L288.5,3.3 L290.5,5.5 M286,14.5 H299.5 M297.5,12.5 L299.7,14.5 L297.5,16.5"/>
<path d="M316.5,3.5 V17 M314.5,5.5 L316.5,3.3 L318.5,5.5 M314,14.5 H327.5 M325.5,12.5 L327.7,14.5 L325.5,16.5"/>
<path d="M440.5,3.5 V17 M438.5,5.5 L440.5,3.3 L442.5,5.5 M438,14.5 H452 M450,12.5 L452.2,14.5 L450,16.5"/>
<path d="M468.5,3.5 V17 M466.5,5.5 L468.5,3.3 L470.5,5.5 M466,14.5 H480 M478,12.5 L480.2,14.5 L478,16.5"/>
</g>
<path d="M266.5,4 V12.7 M266.5,5.5 H269.3 M263.8,11.4 H266.5" stroke="#0a8a0a" stroke-width="1.2" fill="none"/>
<path d="M294.5,1.2 V12.8" stroke="#0a8a0a" stroke-width="1.2"/>
<rect x="292.3" y="3.3" width="4.4" height="7.4" fill="url(#gg)" stroke="#0a8a0a" stroke-width="1.1"/>
<path d="M315.3,11.5 C317,9 319,5.5 321.1,6.4 C323,7.2 324.5,10 326.6,10.3" stroke="#2a9a2a" stroke-width="1.1" fill="none"/>
<path d="M445.3,5 L449.2,8.5 L445.3,12 Z" fill="#40e040" stroke="#0a8a0a" stroke-width="0.8"/>
<path d="M474.4,3 V13" stroke="#2070a8" stroke-width="1.1"/>
<path d="M475,8.4 L477.6,6.2 L477,7.8 L479.8,7.8 L479.8,9 L477,9 L477.6,10.6 Z" fill="#f05010" stroke="#a03000" stroke-width="0.4"/>
<!-- zoom in / out -->
<g>
<path d="M355.5,11 L360.5,16" stroke="#a87808" stroke-width="3.2" stroke-linecap="round"/>
<path d="M355.5,11 L360.5,16" stroke="#f0d040" stroke-width="1.6" stroke-linecap="round"/>
<circle cx="352" cy="6.9" r="5.2" fill="#dcf2ff" stroke="#2a70c8" stroke-width="1.1"/>
<path d="M352,3.6 V10.2 M348.7,6.9 H355.3" stroke="#4a88b0" stroke-width="1.8"/>
<path d="M383.5,11 L388.5,16" stroke="#a87808" stroke-width="3.2" stroke-linecap="round"/>
<path d="M383.5,11 L388.5,16" stroke="#f0d040" stroke-width="1.6" stroke-linecap="round"/>
<circle cx="380" cy="6.9" r="5.2" fill="#dcf2ff" stroke="#2a70c8" stroke-width="1.1"/>
<path d="M376.7,6.9 H383.3" stroke="#4a88b0" stroke-width="1.8"/>
</g>
<!-- tile icon -->
<g shape-rendering="crispEdges">
<rect x="402" y="1" width="8" height="8" fill="#3aa020"/><rect x="410" y="1" width="8" height="8" fill="#2060d0"/>
<rect x="402" y="9" width="8" height="8" fill="#2060d0"/><rect x="410" y="9" width="8" height="8" fill="#3aa020"/>
<rect x="403" y="4" width="6" height="4" fill="#fff"/><rect x="411" y="4" width="6" height="4" fill="#fff"/>
<rect x="403" y="12" width="6" height="4" fill="#fff"/><rect x="411" y="12" width="6" height="4" fill="#fff"/>
<rect x="404" y="5" width="4" height="1" fill="#9ad080"/><rect x="412" y="5" width="4" height="1" fill="#90a8e0"/>
<rect x="404" y="13" width="4" height="1" fill="#90a8e0"/><rect x="412" y="13" width="4" height="1" fill="#9ad080"/>
</g>
<!-- indicators icon -->
<path d="M499.5,1.5 h8 l3,3 v10 h-11 z" fill="#fff" stroke="#6a6a6a" stroke-width="1"/>
<text x="501.5" y="11" font-size="9" font-style="italic" fill="#404020" font-family='"Liberation Serif", serif'>f</text>
<path d="M507,7.5 h3.5 v4 h4 v3.5 h-4 v3.5 h-3.5 v-3.5 h-4 v-3.5 h4 z" fill="url(#gg)" stroke="#0a8a0a" stroke-width="1"/>
<!-- dropdown arrows -->
<g fill="#000">
<path d="M521,8 h5 l-2.5,3 z"/><path d="M560,8 h5 l-2.5,3 z"/><path d="M599,8 h5 l-2.5,3 z"/><path d="M905,8 h5.3 l-2.65,3 z"/>
</g>
<!-- clock -->
<defs><radialGradient id="ck" cx="0.35" cy="0.3" r="0.8"><stop offset="0" stop-color="#5ab0ff"/><stop offset="0.6" stop-color="#1870d0"/><stop offset="1" stop-color="#0a3e98"/></radialGradient></defs>
<circle cx="545" cy="8.8" r="8" fill="url(#ck)"/>
<circle cx="545" cy="8.8" r="5.6" fill="#f8f8f8"/>
<g fill="#555"><circle cx="545" cy="4" r="0.45"/><circle cx="549.8" cy="8.8" r="0.45"/><circle cx="545" cy="13.6" r="0.45"/><circle cx="540.2" cy="8.8" r="0.45"/><circle cx="548.4" cy="5.4" r="0.35"/><circle cx="541.6" cy="5.4" r="0.35"/><circle cx="548.4" cy="12.2" r="0.35"/><circle cx="541.6" cy="12.2" r="0.35"/></g>
<path d="M544.3,4.8 L545,8.9 L548,9.6" stroke="#111" stroke-width="1.1" fill="none"/>
<!-- templates -->
<rect x="576.5" y="2.5" width="15.5" height="13" fill="#fff" stroke="#3070c0" stroke-width="1"/>
<rect x="577" y="3" width="14.5" height="2" fill="#4a88d0"/>
<path d="M577,10 H591.5" stroke="#3070c0" stroke-width="1"/>
<path d="M578,8.3 L580,8.3 L582,7.3 L584,6.5 L586,7.6 L588,7.6 L590,6.7" stroke="#a02010" stroke-width="0.9" fill="none"/>
<path d="M578.5,13.5 L580.5,13 L582,12.5 L583.5,13.5 L585.5,12.5 L587,11.4 L588.5,12.5 L590,13.4" stroke="#20a020" stroke-width="0.9" fill="none"/>
<!-- cursor -->
<path d="M628,2.5 L628,13.5 L630.5,11 L633,16 L634.8,15.2 L632.4,10.4 L635.8,10.2 Z" fill="#3c3c3c"/>
<!-- crosshair -->
<g fill="#4a4a4a" shape-rendering="crispEdges">
<rect x="660" y="2" width="1" height="6"/><rect x="660" y="11" width="1" height="6"/>
<rect x="653" y="9" width="6" height="1"/><rect x="662" y="9" width="6" height="1"/>
<rect x="694" y="3" width="1" height="13"/>
<rect x="717" y="9" width="12" height="1"/>
</g>
<path d="M745,16 L757.2,4" stroke="#4a4a4a" stroke-width="1"/>
<!-- channel -->
<path d="M771,10 L783.5,1.5 M772.5,15 L785,6.5" stroke="#4a4a4a" stroke-width="1.1"/>
<path d="M775.5,6 V13 M778.5,4 V11 M781.5,2 V9" stroke="#4a4a4a" stroke-width="1"/>
<text x="781.7" y="17.8" font-size="6.5" font-weight="bold" fill="#404040" font-family='"Liberation Sans", sans-serif'>E</text>
<!-- fibo -->
<g stroke="#4a4a4a" stroke-width="1" stroke-dasharray="1,1" shape-rendering="crispEdges">
<path d="M800,2.5 H813 M800,5.5 H813 M800,9.5 H813 M800,13.5 H809"/>
</g>
<text x="809.6" y="17.8" font-size="6.5" font-weight="bold" fill="#404040" font-family='"Liberation Sans", sans-serif'>F</text>
<!-- A -->
<text x="830.5" y="14.2" font-size="13" font-weight="bold" fill="#505050" font-family='"Liberation Sans", sans-serif'>A</text>
<!-- T -->
<rect x="857" y="3" width="11.5" height="12.5" fill="none" stroke="#4a4a4a" stroke-width="1" stroke-dasharray="1,1" shape-rendering="crispEdges"/>
<path d="M856.5,2 L859,2 L856.5,4.5 Z" fill="#404040"/>
<path d="M859,6.8 H866.5 M862.7,6.8 V13.7" stroke="#4a4a4a" stroke-width="1.6"/>
<!-- arrows icon -->
<path d="M887.8,2.2 L891,5.3 L887.8,8.2 L884.6,5.3 Z" fill="#4a4a4a"/>
<path d="M895,10.2 L898.2,13.3 L895,16.4 L891.8,13.3 Z" fill="#4a4a4a"/>
<path d="M886,9.5 L888.3,11.8 L893,7" stroke="#4a4a4a" stroke-width="1.3" fill="none"/>
<!-- timeframes -->
<g font-size="10.4" fill="#3a3a3a" font-family='"Liberation Sans", sans-serif'>
<text x="931.5" y="13" textLength="13" lengthAdjust="spacingAndGlyphs">M1</text>
<text x="959.3" y="13" textLength="12.7" lengthAdjust="spacingAndGlyphs">M5</text>
<text x="985.8" y="13" textLength="17.4" lengthAdjust="spacingAndGlyphs">M15</text>
<text x="1013.8" y="13" textLength="17.5" lengthAdjust="spacingAndGlyphs">M30</text>
<text x="1044.6" y="13" textLength="11.9" lengthAdjust="spacingAndGlyphs">H1</text>
<text x="1071.4" y="13" textLength="12.7" lengthAdjust="spacingAndGlyphs">H4</text>
<text x="1100.3" y="13" textLength="12.1" lengthAdjust="spacingAndGlyphs">D1</text>
<text x="1127.6" y="13" textLength="14.9" lengthAdjust="spacingAndGlyphs">W1</text>
<text x="1154.6" y="13" textLength="14.9" lengthAdjust="spacingAndGlyphs">MN</text>
</g>
<!-- search -->
<circle cx="1647.4" cy="6.4" r="3.8" fill="#f4f4ff" stroke="#2a60d0" stroke-width="1.3"/>
<path d="M1644.6,9.4 L1640.8,13.4" stroke="#2a60d0" stroke-width="2.2" stroke-linecap="round"/>
<!-- chat + badge -->
<path d="M1665,11 c0,-3 3,-4.8 5.5,-4.8 c3,0 5.6,1.8 5.6,4.8 c0,2.6 -2.6,4.4 -5.6,4.4 l-1.5,0 l-1.8,2.2 l0.2,-2.6 c-1.6,-0.8 -2.4,-2.2 -2.4,-4 z" fill="#e6e8f0" stroke="#a8a8a8" stroke-width="0.8"/>
<defs><linearGradient id="bdg" x1="0" y1="0" x2="0" y2="1"><stop offset="0" stop-color="#ec5a38"/><stop offset="1" stop-color="#d21a08"/></linearGradient></defs>
<circle cx="1678.4" cy="6.6" r="8.1" fill="url(#bdg)"/>
<text x="1677.8" y="11.2" font-size="11.5" font-weight="bold" fill="#fff" text-anchor="middle" font-family='"Liberation Serif", serif'>1</text>
</g>

</svg>
</body></html>
